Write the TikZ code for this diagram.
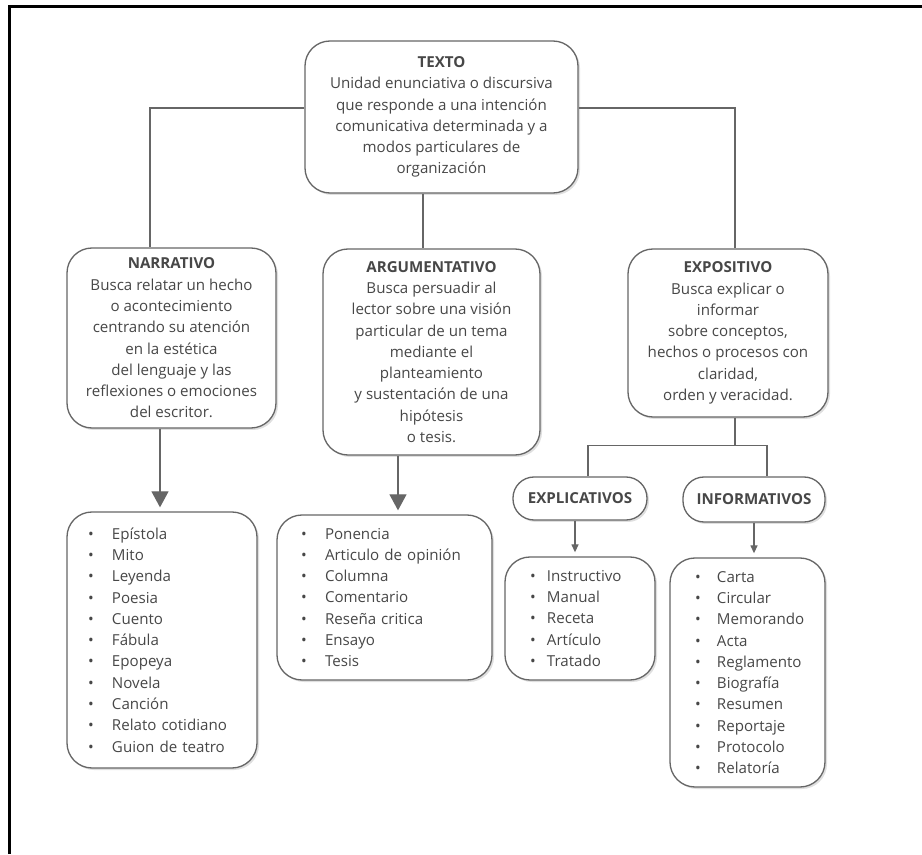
\documentclass[tikz,border=0pt]{standalone}
\usepackage{fontspec}
\setmainfont{Open Sans}
\usetikzlibrary{arrows.meta,shadows}

\definecolor{txtgray}{HTML}{474747}
\definecolor{linegray}{HTML}{666666}

\newcommand{\vin}[2][0.46cm]{\makebox[#1][l]{\textbullet}#2}

\tikzset{
    caja/.style={draw=linegray, line width=0.75pt, rounded corners=0.5cm, fill=white,
        text=txtgray, align=center, inner sep=0pt,
        font=\fontsize{8.6}{12.1}\selectfont,
        drop shadow={shadow xshift=0.04cm, shadow yshift=-0.04cm, opacity=0.25}},
    ovalo/.style={caja, rounded corners=0.42cm, font=\fontsize{8.6}{12.1}\selectfont\bfseries},
    lista/.style={caja, align=left},
    linea/.style={draw=linegray, line width=0.75pt},
    flechagrande/.style={linea, -{Triangle[width=0.34cm,length=0.32cm]}, shorten >=0.08cm},
    flechita/.style={linea, -{Triangle[width=0.14cm,length=0.16cm]}, shorten >=0.08cm}
}

\begin{document}
\begin{tikzpicture}
    \useasboundingbox (0,0) rectangle (18.44,17.08);
    \draw[line width=1.2pt] (0.19,0) -- (0.19,16.95) -- (18.44,16.95);

    \node[caja, minimum width=5.46cm, minimum height=3.04cm] (texto) at (8.83,14.74)
        {\textbf{TEXTO}\\Unidad enunciativa o discursiva\\que responde a una intención\\comunicativa determinada y a\\modos particulares de\\organización};

    \node[caja, minimum width=4.18cm, minimum height=3.6cm] (narr) at (3.43,10.32)
        {\textbf{NARRATIVO}\\Busca relatar un hecho\\o acontecimiento\\centrando su atención\\en la estética\\del lenguaje y las\\reflexiones o emociones\\del escritor.};
    \node[caja, minimum width=4.34cm, minimum height=4.12cm] (argu) at (8.63,10.04)
        {\textbf{ARGUMENTATIVO}\\Busca persuadir al\\lector sobre una visión\\particular de un tema\\mediante el\\planteamiento\\y sustentación de una\\hipótesis\\o tesis.};
    \node[caja, minimum width=4.0cm, minimum height=3.36cm] (expo) at (14.56,10.42)
        {\textbf{EXPOSITIVO}\\Busca explicar o\\informar\\sobre conceptos,\\hechos o procesos con\\claridad,\\orden y veracidad.};

    \node[ovalo, minimum width=2.68cm, minimum height=0.86cm] (explic) at (11.6,7.11) {EXPLICATIVOS};
    \node[ovalo, minimum width=2.84cm, minimum height=0.9cm] (inform) at (15.08,7.09) {INFORMATIVOS};

    \node[lista, inner xsep=0.42cm, text width=2.96cm, minimum height=5.12cm] (narrl) at (3.24,4.28)
        {\vin[0.48cm]{Epístola}\\\vin[0.48cm]{Mito}\\\vin[0.48cm]{Leyenda}\\\vin[0.48cm]{Poesia}\\\vin[0.48cm]{Cuento}\\\vin[0.48cm]{Fábula}\\\vin[0.48cm]{Epopeya}\\\vin[0.48cm]{Novela}\\\vin[0.48cm]{Canción}\\\vin[0.48cm]{Relato cotidiano}\\\vin[0.48cm]{Guion de teatro}};
    \node[lista, inner xsep=0.48cm, text width=3.34cm, minimum height=3.3cm] (argul) at (7.69,5.13)
        {\vin[0.48cm]{Ponencia}\\\vin[0.48cm]{Articulo de opinión}\\\vin[0.48cm]{Columna}\\\vin[0.48cm]{Comentario}\\\vin[0.48cm]{Reseña critica}\\\vin[0.48cm]{Ensayo}\\\vin[0.48cm]{Tesis}};
    \node[lista, inner xsep=0.5cm, text width=2.0cm, minimum height=2.46cm] (explicl) at (11.6,4.71)
        {\vin[0.34cm]{Instructivo}\\\vin[0.34cm]{Manual}\\\vin[0.34cm]{Receta}\\\vin[0.34cm]{Artículo}\\\vin[0.34cm]{Tratado}};
    \node[lista, inner xsep=0.5cm, text width=2.1cm, minimum height=4.58cm] (informl) at (14.95,3.63)
        {\vin[0.44cm]{Carta}\\\vin[0.44cm]{Circular}\\\vin[0.44cm]{Memorando}\\\vin[0.44cm]{Acta}\\\vin[0.44cm]{Reglamento}\\\vin[0.44cm]{Biografía}\\\vin[0.44cm]{Resumen}\\\vin[0.44cm]{Reportaje}\\\vin[0.44cm]{Protocolo}\\\vin[0.44cm]{Relatoría}};

    \draw[linea] ([yshift=0.18cm]texto.west) -| ([xshift=-0.43cm]narr.north);
    \draw[linea] ([yshift=0.18cm]texto.east) -| ([xshift=0.14cm]expo.north);
    \draw[linea] ([xshift=-0.37cm]texto.south) -- ([xshift=-0.37cm]texto.south |- argu.north);
    \draw[linea] ([xshift=0.14cm]expo.south) -- ++(0,-0.56) coordinate (nudo);
    \draw[linea] ([xshift=0.16cm]explic.north) |- (nudo) -| ([xshift=0.26cm]inform.north);

    \draw[flechagrande] ([xshift=-0.23cm]narr.south) -- ([xshift=-0.23cm]narr.south |- narrl.north);
    \draw[flechagrande] ([xshift=-0.67cm]argu.south) -- ([xshift=-0.67cm]argu.south |- argul.north);
    \draw[flechita] ([xshift=-0.1cm]explic.south) -- ([xshift=-0.1cm]explic.south |- explicl.north);
    \draw[flechita] (inform.south) -- (inform.south |- informl.north);
\end{tikzpicture}
\end{document}
